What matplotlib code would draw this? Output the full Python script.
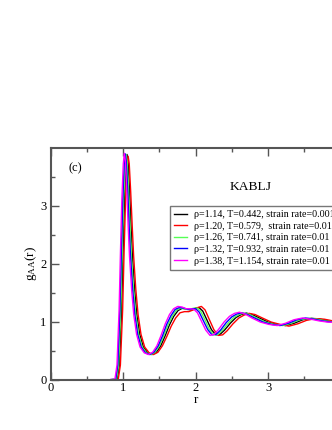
import matplotlib
matplotlib.use("Agg")
import matplotlib.pyplot as plt

plt.rcParams['font.family'] = ['Liberation Serif', 'DejaVu Serif']
plt.rcParams['mathtext.default'] = 'regular'

labels = [
    "ρ=1.14, T=0.442, strain rate=0.001",
    "ρ=1.20, T=0.579,  strain rate=0.01",
    "ρ=1.26, T=0.741, strain rate=0.01",
    "ρ=1.32, T=0.932, strain rate=0.01",
    "ρ=1.38, T=1.154, strain rate=0.01",
]
colors = ['black', 'red', '#55ff55', 'blue', 'magenta']

# rho = 1.14 (black)
r_black = [0.86, 0.92, 0.95, 0.98, 1.00, 1.02, 1.04, 1.055, 1.07, 1.09, 1.11, 1.13, 1.16, 1.19,
           1.23, 1.28, 1.34, 1.40, 1.46, 1.52, 1.58, 1.64, 1.70, 1.76, 1.82, 1.88, 1.94, 2.00,
           2.05, 2.10, 2.16, 2.22, 2.28, 2.34, 2.40, 2.48, 2.56, 2.63, 2.70, 2.78, 2.88, 3.00,
           3.12, 3.24, 3.36, 3.48, 3.60, 3.72, 3.84, 3.96, 4.10]
g_black = [0.00, 0.00, 0.25, 1.20, 2.20, 3.10, 3.70, 3.88, 3.75, 3.25, 2.65, 2.12, 1.55, 1.12,
           0.78, 0.56, 0.46, 0.43, 0.47, 0.58, 0.75, 0.94, 1.09, 1.19, 1.23, 1.21, 1.20, 1.23,
           1.24, 1.18, 1.02, 0.86, 0.77, 0.78, 0.85, 0.97, 1.07, 1.12, 1.145, 1.12, 1.06, 0.99,
           0.95, 0.93, 0.97, 1.03, 1.055, 1.04, 1.01, 0.99, 0.98]

# rho = 1.20 (red)
r_red = [0.873, 0.934, 0.964, 0.995, 1.015, 1.035, 1.056, 1.071, 1.086, 1.106, 1.127, 1.147, 1.177, 1.208,
         1.248, 1.299, 1.360, 1.421, 1.482, 1.543, 1.604, 1.665, 1.726, 1.786, 1.847, 1.908, 1.969, 2.030,
         2.081, 2.132, 2.192, 2.253, 2.314, 2.375, 2.436, 2.517, 2.598, 2.669, 2.741, 2.822, 2.923, 3.045,
         3.167, 3.289, 3.410, 3.532, 3.654, 3.776, 3.898, 4.019, 4.162]
g_red = [0.00, 0.00, 0.25, 1.20, 2.20, 3.08, 3.66, 3.85, 3.72, 3.24, 2.65, 2.12, 1.55, 1.12,
         0.78, 0.56, 0.46, 0.43, 0.47, 0.58, 0.74, 0.92, 1.06, 1.15, 1.17, 1.17, 1.20, 1.24,
         1.26, 1.20, 1.03, 0.86, 0.76, 0.77, 0.84, 0.96, 1.06, 1.11, 1.14, 1.12, 1.06, 0.99,
         0.95, 0.92, 0.96, 1.02, 1.05, 1.04, 1.01, 0.99, 0.98]

# rho = 1.26 (green)
r_green = [0.850, 0.909, 0.939, 0.968, 0.988, 1.008, 1.028, 1.042, 1.057, 1.077, 1.097, 1.116, 1.146, 1.176,
           1.215, 1.265, 1.324, 1.383, 1.442, 1.502, 1.561, 1.620, 1.680, 1.739, 1.798, 1.857, 1.917, 1.976,
           2.025, 2.075, 2.134, 2.193, 2.253, 2.312, 2.371, 2.450, 2.529, 2.598, 2.668, 2.747, 2.845, 2.964,
           3.083, 3.201, 3.320, 3.438, 3.557, 3.675, 3.794, 3.912, 4.051]
g_green = [0.00, 0.00, 0.25, 1.20, 2.20, 3.10, 3.70, 3.88, 3.75, 3.25, 2.65, 2.12, 1.55, 1.12,
           0.78, 0.56, 0.46, 0.43, 0.47, 0.58, 0.75, 0.94, 1.09, 1.20, 1.23, 1.21, 1.21, 1.23,
           1.23, 1.17, 1.02, 0.86, 0.77, 0.78, 0.85, 0.97, 1.07, 1.12, 1.145, 1.12, 1.06, 0.99,
           0.95, 0.93, 0.97, 1.03, 1.055, 1.04, 1.01, 0.99, 0.98]

# rho = 1.32 (blue)
r_blue = [0.840, 0.899, 0.928, 0.957, 0.977, 0.997, 1.016, 1.031, 1.045, 1.065, 1.084, 1.104, 1.133, 1.163,
          1.202, 1.251, 1.309, 1.368, 1.426, 1.485, 1.544, 1.602, 1.661, 1.720, 1.778, 1.837, 1.895, 1.954,
          2.003, 2.052, 2.110, 2.169, 2.228, 2.286, 2.345, 2.423, 2.501, 2.570, 2.638, 2.716, 2.814, 2.931,
          3.048, 3.165, 3.283, 3.400, 3.517, 3.634, 3.752, 3.869, 4.006]
g_blue = [0.00, 0.00, 0.25, 1.20, 2.20, 3.10, 3.70, 3.89, 3.76, 3.25, 2.65, 2.12, 1.55, 1.12,
          0.78, 0.56, 0.46, 0.43, 0.47, 0.58, 0.75, 0.95, 1.10, 1.21, 1.24, 1.23, 1.21, 1.22,
          1.22, 1.16, 1.01, 0.86, 0.77, 0.78, 0.85, 0.98, 1.08, 1.13, 1.15, 1.12, 1.06, 0.99,
          0.95, 0.93, 0.97, 1.03, 1.06, 1.04, 1.01, 0.99, 0.98]

# rho = 1.38 (magenta)
r_mag = [0.830, 0.888, 0.917, 0.946, 0.965, 0.984, 1.004, 1.018, 1.033, 1.052, 1.071, 1.090, 1.119, 1.148,
         1.187, 1.235, 1.293, 1.351, 1.409, 1.467, 1.525, 1.583, 1.641, 1.698, 1.756, 1.814, 1.872, 1.930,
         1.978, 2.027, 2.084, 2.142, 2.200, 2.258, 2.316, 2.393, 2.470, 2.538, 2.606, 2.683, 2.779, 2.895,
         3.011, 3.127, 3.242, 3.358, 3.474, 3.590, 3.706, 3.821, 3.957]
g_mag = [0.00, 0.00, 0.25, 1.20, 2.20, 3.10, 3.72, 3.90, 3.77, 3.26, 2.65, 2.12, 1.55, 1.12,
         0.78, 0.56, 0.46, 0.43, 0.47, 0.58, 0.76, 0.96, 1.12, 1.22, 1.26, 1.25, 1.22, 1.22,
         1.21, 1.15, 1.00, 0.85, 0.76, 0.78, 0.86, 0.99, 1.09, 1.14, 1.16, 1.13, 1.06, 0.99,
         0.95, 0.93, 0.97, 1.03, 1.06, 1.04, 1.01, 0.99, 0.98]

series_r = [r_black, r_red, r_green, r_blue, r_mag]
series_g = [g_black, g_red, g_green, g_blue, g_mag]

xticks = [0, 1, 2, 3]
yticks = [0, 1, 2, 3]

fig = plt.figure(figsize=(3.32, 4.30), dpi=100)
ax = fig.add_axes([50.5 / 332, 50.5 / 430, 290 / 332, 232 / 430])

for r, g, c, lab in zip(series_r, series_g, colors, labels):
    ax.plot(r, g, color=c, lw=1.0, label=lab)

ax.set_xlim(0, 4)
ax.set_ylim(0, 4)
ax.set_xticks(xticks)
ax.set_yticks(yticks)
ax.set_xticks([0.5, 1.5, 2.5, 3.5], minor=True)
ax.set_yticks([0.5, 1.5, 2.5, 3.5], minor=True)
spine_c = '#555555'
for s in ax.spines.values():
    s.set_color(spine_c)
    s.set_linewidth(1.5)
ax.tick_params(which='both', direction='in', top=True, right=True, colors=spine_c,
               labelcolor='black', labelsize=9)
ax.tick_params(which='major', length=6, width=1.0)
ax.tick_params(which='minor', length=3, width=1.0)
ax.tick_params(axis='x', pad=2)
ax.tick_params(axis='y', pad=3)

ax.set_xlabel('r', fontsize=9.5, labelpad=0)
ax.set_ylabel('$g_{AA}(r)$', fontsize=9.5, labelpad=1)

ax.text(75 / 332, 1 - 168 / 430, '(c)', transform=fig.transFigure, fontsize=9,
        ha='center', va='center')
ax.text(251 / 332, 1 - 187 / 430, 'KABLJ', transform=fig.transFigure, fontsize=9.7,
        ha='center', va='center')

leg = fig.legend(loc='upper left', bbox_to_anchor=(169.5 / 332, 1 - 206.5 / 430),
                 frameon=True, fancybox=False, fontsize=7.2, handlelength=1.35,
                 handletextpad=0.7, labelspacing=0.25, borderpad=0.4, borderaxespad=0)
leg.get_frame().set_edgecolor('#555555')
leg.get_frame().set_linewidth(1.0)

fig.savefig('out.png', dpi=100)
